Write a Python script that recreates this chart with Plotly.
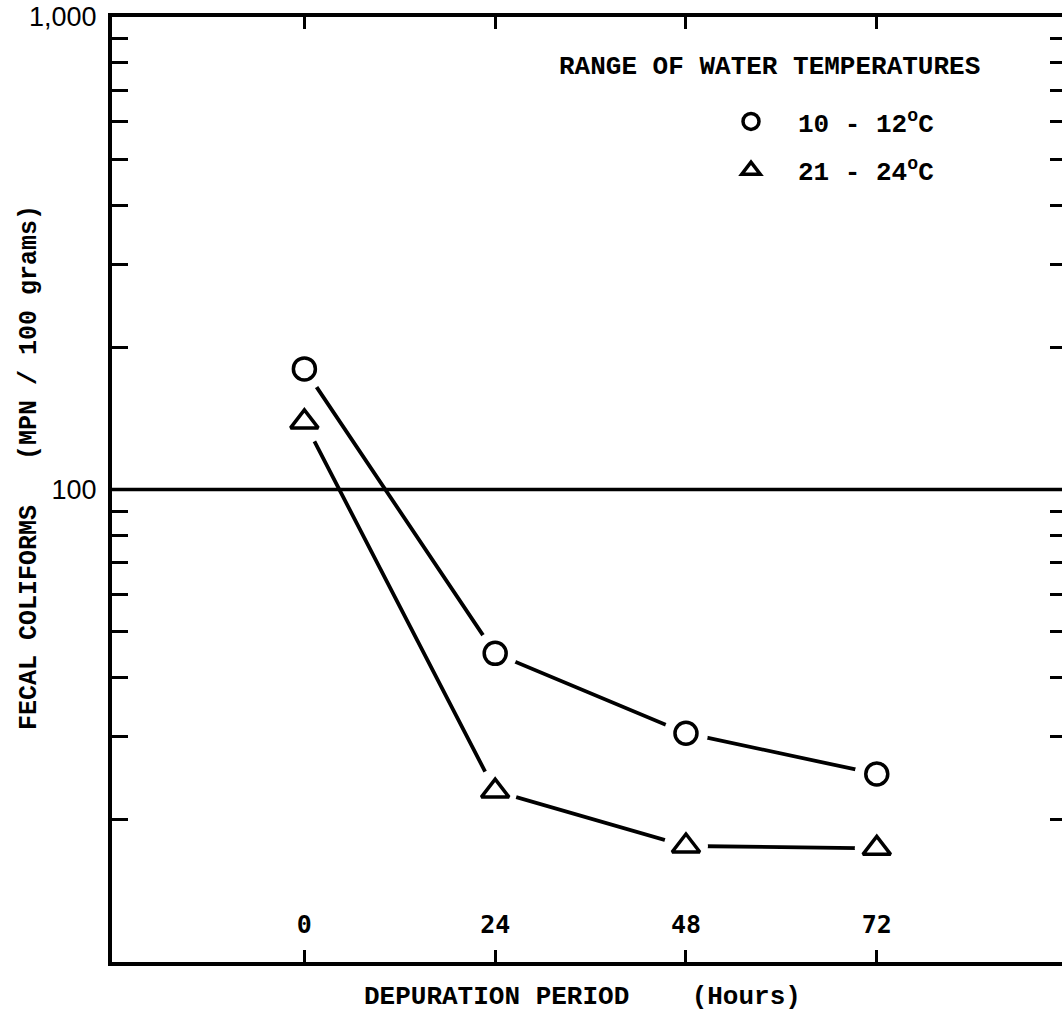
import plotly.graph_objects as go

# ---- data ----
hours = [0, 24, 48, 72]
temp_10_12 = [180, 45, 30.5, 25]      # circles
temp_21_24 = [139, 23, 17.6, 17.4]    # triangles
series_names = ["10 - 12<sup>o</sup>C", "21 - 24<sup>o</sup>C"]
x_tick_text = ["0", "24", "48", "72"]
y_tick_vals = [10, 100, 1000]
y_tick_text = ["10", "100", "1,000"]
minor_vals = [20, 30, 40, 50, 60, 70, 80, 90, 200, 300, 400, 500, 600, 700, 800, 900]
reference_level = 100

MONO = dict(family="Liberation Mono", size=26, color="black", weight="bold")

fig = go.Figure()
series = [(temp_10_12, "circle-open", series_names[0], 22),
          (temp_21_24, "triangle-up-open", series_names[1], 24)]

for vals, sym, name, sz in series:
    fig.add_trace(go.Scatter(x=hours, y=vals, mode="lines",
                             line=dict(color="black", width=3.8),
                             showlegend=False, hoverinfo="skip"))
for vals, sym, name, sz in series:
    fig.add_trace(go.Scatter(x=hours, y=vals, mode="markers",
                             marker=dict(symbol="circle", size=44, color="white",
                                         line=dict(width=0)),
                             showlegend=False, hoverinfo="skip"))
for i, (vals, sym, name, sz) in enumerate(series):
    fig.add_trace(go.Scatter(x=hours, y=vals, mode="markers", name=name,
                             legendgroup=f"g{i}",
                             marker=dict(symbol=sym, size=sz, color="black",
                                         line=dict(color="black", width=3.5))))

# invisible trace to host the right-side tick axis
fig.add_trace(go.Scatter(x=[None], y=[None], yaxis="y2", showlegend=False,
                         hoverinfo="skip"))

fig.add_shape(type="line", xref="paper", x0=0, x1=1, yref="y",
              y0=reference_level, y1=reference_level,
              line=dict(color="black", width=3.5))

fig.update_layout(
    width=1062, height=1016,
    margin=dict(l=112, r=0, t=17, b=54),
    paper_bgcolor="white", plot_bgcolor="white",
    xaxis=dict(type="linear", range=[-24.2, 95.3],
               tickvals=hours, ticktext=x_tick_text,
               ticks="inside", ticklen=12, tickwidth=3, tickcolor="black",
               showline=True, linecolor="black", linewidth=4, mirror="ticks",
               ticklabelposition="inside", ticklabelstandoff=14,
               tickfont=dict(family="DejaVu Sans Mono", size=25, color="black",
                             weight="bold"),
               showgrid=False, zeroline=False),
    yaxis=dict(type="log", range=[1, 3],
               tickvals=y_tick_vals, ticktext=y_tick_text, ticks="",
               showline=True, linecolor="black", linewidth=4, mirror=False,
               ticklabelstandoff=6,
               tickfont=dict(family="Liberation Sans", size=27, color="black"),
               minor=dict(tickvals=minor_vals, ticks="inside", ticklen=16,
                          tickwidth=3, tickcolor="black", showgrid=False),
               showgrid=False, zeroline=False),
    yaxis2=dict(type="log", range=[1, 3], overlaying="y", side="right",
                anchor="x", showline=False, ticks="", showticklabels=False,
                minor=dict(tickvals=minor_vals, ticks="inside", ticklen=12,
                           tickwidth=3, tickcolor="black", showgrid=False),
                showgrid=False, zeroline=False),
    legend=dict(x=(704 - 112) / 950, y=(962 - 98) / 945, xanchor="left",
                yanchor="top", bgcolor="rgba(0,0,0,0)", borderwidth=0,
                font=MONO, tracegroupgap=12, itemsizing="trace",
                itemwidth=84),
    showlegend=True,
    annotations=[
        dict(text="RANGE OF WATER TEMPERATURES", xref="paper", yref="paper",
             x=(557 - 112) / 950, y=(962 - 67) / 945, xanchor="left",
             yanchor="middle", showarrow=False, font=MONO),
        dict(text="FECAL COLIFORMS   (MPN / 100 grams)", xref="paper",
             yref="paper", x=(29 - 112) / 950, y=(962 - 468) / 945,
             xanchor="center", yanchor="middle", textangle=-90,
             showarrow=False, font=dict(family="Liberation Mono", size=25,
                                        color="black", weight="bold")),
        dict(text="DEPURATION PERIOD    (Hours)", xref="paper", yref="paper",
             x=(582 - 112) / 950, y=(962 - 997) / 945, xanchor="center",
             yanchor="middle", showarrow=False, font=MONO),
    ],
)

fig.write_html("out.html")
